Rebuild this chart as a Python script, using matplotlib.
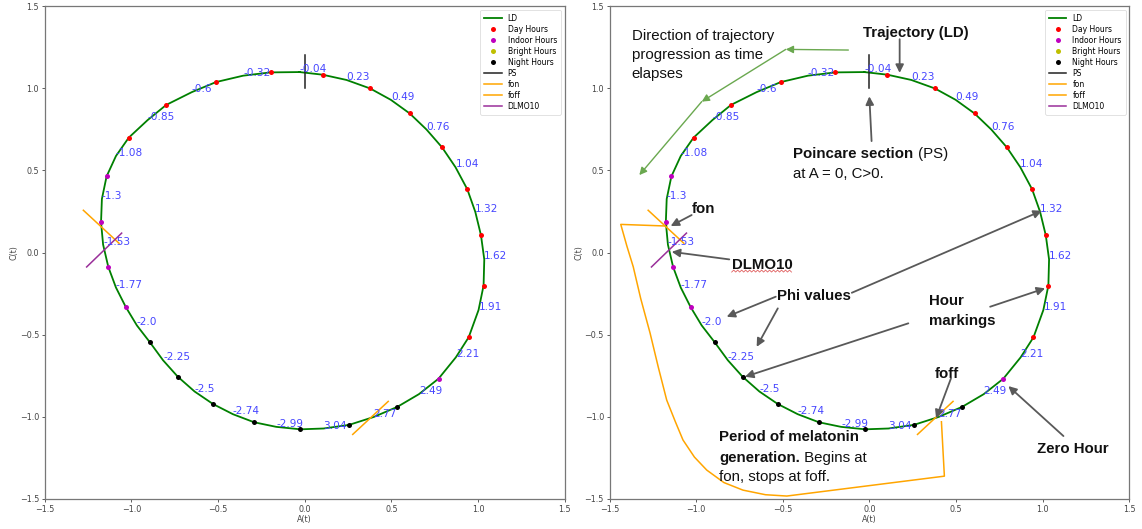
import numpy as np
import matplotlib
matplotlib.use("Agg")
import matplotlib.pyplot as plt

# ---------------- data ----------------
# hour markings, clockwise from the top
hour_A = [0.103, 0.378, 0.606, 0.793, 0.938, 1.017, 1.032, 0.946,
          0.772, 0.535, 0.256, -0.025, -0.292, -0.529, -0.732, -0.894,
          -1.032, -1.133, -1.175, -1.143, -1.015, -0.799, -0.512, -0.197]
hour_C = [1.082, 0.998, 0.846, 0.639, 0.385, 0.105, -0.201, -0.516,
          -0.768, -0.939, -1.049, -1.076, -1.033, -0.922, -0.756, -0.545,
          -0.332, -0.088, 0.184, 0.463, 0.699, 0.898, 1.037, 1.096]
hour_kind = ['day'] * 8 + ['indoor'] + ['night'] * 7 + ['indoor'] * 4 + ['day'] * 4

# phi values and the trajectory positions where they are written
phi_values = ['-0.04', '0.23', '0.49', '0.76', '1.04', '1.32', '1.62', '1.91',
              '2.21', '2.49', '2.77', '3.04', '-2.99', '-2.74', '-2.5', '-2.25',
              '-2.0', '-1.77', '-1.53', '-1.3', '-1.08', '-0.85', '-0.6', '-0.32']
phi_A = [-0.030, 0.241, 0.497, 0.703, 0.870, 0.984, 1.036, 1.003,
         0.872, 0.659, 0.398, 0.109, -0.164, -0.414, -0.635, -0.817,
         -0.968, -1.089, -1.163, -1.170, -1.089, -0.906, -0.651, -0.355]
phi_C = [1.098, 1.050, 0.929, 0.748, 0.519, 0.248, -0.042, -0.350,
         -0.638, -0.862, -1.001, -1.071, -1.061, -0.984, -0.846, -0.656,
         -0.444, -0.213, 0.048, 0.326, 0.587, 0.806, 0.976, 1.076]

ps_A, ps_C = [0.0, 0.0], [1.0, 1.2]
fon_A, fon_C = [-1.277, -1.071], [0.257, 0.056]
foff_A, foff_C = [0.277, 0.482], [-1.107, -0.906]
dlmo_A, dlmo_C = [-1.258, -1.056], [-0.088, 0.118]

kind_style = {'day': 'r', 'indoor': 'm', 'bright': 'y', 'night': 'k'}

# ---------------- figure ----------------
fig = plt.figure(figsize=(11.42, 5.29), dpi=100)
W, H = 1142, 529
ax_l = fig.add_axes([44.7 / W, 30 / H, 520 / W, 493 / H])
ax_r = fig.add_axes([609.5 / W, 30 / H, 520 / W, 493 / H])

ANN = ['Liberation Sans', 'DejaVu Sans']


def draw_base(ax):
    # trajectory: hour marks and phi anchors interleaved (both lie on the curve)
    trA, trC = [], []
    for i in range(24):
        trA += [phi_A[i], hour_A[i]]
        trC += [phi_C[i], hour_C[i]]
    trA.append(trA[0]); trC.append(trC[0])
    ax.plot(trA, trC, color='green', lw=1.3, label='LD', zorder=2,
            solid_joinstyle='round')
    for kind, lab in [('day', 'Day Hours'), ('indoor', 'Indoor Hours'),
                      ('bright', 'Bright Hours'), ('night', 'Night Hours')]:
        xs = [a for a, k in zip(hour_A, hour_kind) if k == kind]
        ys = [c for c, k in zip(hour_C, hour_kind) if k == kind]
        ax.plot(xs, ys, 'o', color=kind_style[kind], ms=3.6, mec='none',
                label=lab, zorder=3)
    ax.plot(ps_A, ps_C, color='#222222', lw=1.1, label='PS', zorder=4)
    ax.plot(fon_A, fon_C, color='orange', lw=1.1, label='fon', zorder=4)
    ax.plot(foff_A, foff_C, color='orange', lw=1.1, label='foff', zorder=4)
    ax.plot(dlmo_A, dlmo_C, color='#9a2f9a', lw=1.1, label='DLMO10', zorder=4)
    for s, a, c in zip(phi_values, phi_A, phi_C):
        ax.text(a, c, s, color='#4646ff', fontsize=7.6, ha='left',
                va='baseline', zorder=5)
    ax.set_xlim(-1.5, 1.5)
    ax.set_ylim(-1.5, 1.5)
    ticks = [-1.5, -1.0, -0.5, 0.0, 0.5, 1.0, 1.5]
    ax.set_xticks(ticks)
    ax.set_yticks(ticks)
    ax.tick_params(labelsize=5.8, length=2.5, width=0.6, colors='#444444',
                   pad=1.5)
    for sp in ax.spines.values():
        sp.set_color('#777777')
        sp.set_linewidth(0.9)
    ax.set_xlabel('A(t)', fontsize=5.8, color='#444444', labelpad=1)
    ax.set_ylabel('C(t)', fontsize=5.8, color='#444444', labelpad=1)
    leg = ax.legend(loc='upper right', fontsize=5.5, labelspacing=0.27,
                    handlelength=2.3, borderpad=0.5, borderaxespad=0.5,
                    handletextpad=0.8, framealpha=1, edgecolor='#dddddd',
                    fancybox=True)
    leg.get_frame().set_linewidth(0.6)


draw_base(ax_l)
draw_base(ax_r)

# ---------------- annotations on the right panel ----------------
ax = ax_r
grey = '#595959'
gr = '#6aa84f'
FS = 10.8
CAP = 0.033


def line(x, yc, s, bold=False, **kw):
    return ax.text(x, yc - CAP, s, fontsize=FS, family=ANN, ha='left',
                   va='baseline', fontweight='bold' if bold else 'normal',
                   color='#111111', zorder=6, **kw)


def after(t, s, bold=False):
    return ax.annotate(s, xy=(1, 0), xycoords=t, fontsize=FS, family=ANN,
                       ha='left', va='bottom',
                       fontweight='bold' if bold else 'normal',
                       color='#111111', zorder=6)


def arrow(tail, head, color=grey, lw=1.3, ms=12):
    ax.annotate('', xy=head, xytext=tail,
                arrowprops=dict(arrowstyle='-|>', color=color, lw=lw,
                                mutation_scale=ms, shrinkA=0, shrinkB=0),
                zorder=6)


# direction of trajectory
line(-1.372, 1.328, 'Direction of trajectory')
line(-1.372, 1.211, 'progression as time')
line(-1.372, 1.092, 'elapses')
arrow((-0.122, 1.232), (-0.483, 1.236), color=gr, lw=1.0, ms=11)
arrow((-0.483, 1.236), (-0.968, 0.918), color=gr, lw=1.0, ms=11)
arrow((-0.968, 0.918), (-1.328, 0.471), color=gr, lw=1.0, ms=11)

line(-0.035, 1.345, 'Trajectory (LD)', bold=True)
arrow((0.174, 1.298), (0.174, 1.093))

t = line(-0.439, 0.611, 'Poincare section', bold=True)
after(t, ' (PS)')
line(-0.439, 0.489, 'at A = 0, C>0.')
arrow((0.012, 0.678), (-0.001, 0.950))

line(-1.026, 0.275, 'fon', bold=True)
arrow((-1.026, 0.228), (-1.147, 0.161))

line(-0.795, -0.066, 'DLMO10', bold=True)
arrow((-0.809, -0.042), (-1.141, 0.004))
# spell-check squiggle under DLMO10
sq_x = np.arange(-0.795, -0.439, 0.0115)
sq_y = -0.113 + 0.006 * (np.arange(len(sq_x)) % 2 * 2 - 1)
ax.plot(sq_x, sq_y, color='#e06060', lw=0.6, zorder=6)

line(-0.535, -0.255, 'Phi values', bold=True)
arrow((-0.541, -0.269), (-0.824, -0.391))
arrow((-0.529, -0.340), (-0.651, -0.574))
arrow((-0.102, -0.245), (0.994, 0.254))

line(0.344, -0.289, 'Hour', bold=True)
line(0.344, -0.407, 'markings', bold=True)
arrow((0.696, -0.330), (1.013, -0.218))
arrow((0.224, -0.431), (-0.718, -0.756))

line(0.374, -0.732, 'foff', bold=True)
arrow((0.470, -0.766), (0.384, -1.009))

line(0.965, -1.188, 'Zero Hour', bold=True)
arrow((1.119, -1.117), (0.801, -0.813))

line(-0.868, -1.117, 'Period of melatonin', bold=True)
t = line(-0.868, -1.243, 'generation.', bold=True)
after(t, ' Begins at')
line(-0.868, -1.355, 'fon, stops at foff.')

# orange bracket for the melatonin period
br_A = [-1.170, -1.435, -1.400, -1.363, -1.320, -1.266, -1.218, -1.170,
        -1.120, -1.076, -1.010, -0.939, -0.840, -0.730, -0.600, -0.477,
        0.432, 0.415]
br_C = [0.161, 0.171, 0.040, -0.087, -0.280, -0.490, -0.700, -0.898,
        -1.030, -1.141, -1.245, -1.324, -1.400, -1.446, -1.474, -1.482,
        -1.361, -1.030]
ax.plot(br_A, br_C, color='orange', lw=1.1, zorder=1,
        solid_joinstyle='round')

fig.savefig('out.png', dpi=100)
